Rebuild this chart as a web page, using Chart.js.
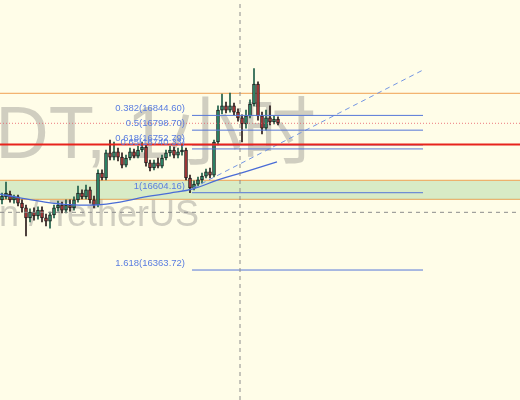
<!DOCTYPE html>
<html>
<head>
<meta charset="utf-8">
<script src="https://cdn.jsdelivr.net/npm/chart.js@4/dist/chart.umd.min.js"></script>
<style>
html,body{margin:0;padding:0;background:#FFFDE8;}
#c{display:block;}
</style>
</head>
<body>
<canvas id="c" width="520" height="400"></canvas>
<script>
// ---- data (prices) ----
const opens  = [16582,16591,16600,16582,16591,16572,16557,16526,16544,16532,16550,16526,16516,16535,16557,16566,16550,16566,16557,16582,16603,16591,16613,16582,16566,16665,16650,16728,16715,16731,16715,16690,16712,16731,16718,16737,16746,16697,16681,16697,16687,16712,16728,16737,16721,16731,16737,16650,16619,16631,16644,16656,16669,16659,16762,16861,16874,16861,16874,16855,16837,16818,16843,16880,16942,16843,16805,16837,16824,16833];
const highs  = [16603,16637,16609,16597,16597,16582,16566,16554,16557,16560,16560,16538,16544,16566,16578,16575,16582,16582,16591,16625,16613,16628,16622,16594,16675,16675,16737,16768,16762,16743,16728,16721,16743,16740,16749,16762,16753,16706,16706,16712,16721,16737,16749,16746,16743,16756,16743,16659,16641,16653,16665,16678,16681,16768,16874,16911,16886,16914,16883,16865,16846,16861,16893,16990,16949,16855,16861,16874,16843,16840];
const lows   = [16569,16585,16575,16572,16563,16544,16470,16513,16519,16522,16513,16501,16494,16526,16547,16541,16541,16547,16550,16575,16585,16585,16572,16557,16560,16644,16644,16706,16706,16703,16681,16684,16706,16712,16712,16731,16687,16672,16675,16681,16681,16706,16718,16712,16712,16721,16644,16604,16613,16625,16634,16650,16650,16653,16753,16849,16852,16855,16846,16827,16762,16805,16837,16874,16830,16787,16799,16815,16818,16815];
const closes = [16594,16603,16582,16591,16572,16557,16526,16544,16532,16550,16526,16516,16535,16557,16566,16550,16566,16557,16582,16603,16591,16613,16582,16566,16665,16650,16728,16715,16731,16715,16690,16712,16731,16718,16737,16746,16697,16681,16697,16687,16712,16728,16737,16721,16731,16737,16650,16619,16631,16644,16656,16669,16659,16762,16861,16874,16861,16874,16855,16837,16818,16843,16880,16942,16843,16805,16837,16824,16833,16821];

// moving-average style curve (bar index, price)
const maIdx    = [-0.5, 4.5, 10.75, 17, 23.25, 29.5, 35.75, 42, 47.75, 54, 60.75, 68.75];
const maPrices = [16600,16588,16575,16567,16566,16575,16591,16603,16616,16644,16669,16700];

// fibonacci retracement
const fibRatios = ["0.382","0.5","0.618","0.65","1","1.618"];
const fibPrices = [16844.60,16798.70,16752.79,16740.33,16604.16,16363.72];
const fibStartIdx = 47.5, fibEndIdx = 105.25;

// horizontal levels
const orangeLevels = [16913.3, 16642.8, 16583.7];
const redLevel = 16754.1;
const lastPriceLevel = 16820;

// dashed trend line
const trendIdx = [47.75, 105.25];
const trendPrices = [16618.8, 16985.8];

// crosshair
const crossIdx = 59.5, crossPrice = 16543.2;

// view range
const xMin = -0.5, xMax = 129.5, yMin = 15959.5, yMax = 17203.5;

// ---- build datasets ----
const idx = closes.map((_, i) => i);
const isUp = idx.map(i => closes[i] >= opens[i]);
const hline = (p) => [{x:xMin, y:p}, {x:xMax, y:p}];

const lineBase = {type:'line', pointRadius:0, fill:false, tension:0, borderWidth:1};

const datasets = [
  Object.assign({}, lineBase, {data:[{x:crossIdx,y:yMin},{x:crossIdx,y:yMax}], borderColor:'#8c8c8c', borderDash:[4,4], order:0}),
  Object.assign({}, lineBase, {data:hline(crossPrice), borderColor:'#8c8c8c', borderDash:[4,4], order:0}),
  Object.assign({}, lineBase, {data:hline(redLevel), borderColor:'#e8231c', borderWidth:2, order:1}),
];
fibPrices.forEach(p => datasets.push(Object.assign({}, lineBase, {
  data:[{x:fibStartIdx,y:p},{x:fibEndIdx,y:p}], borderColor:'#5577d8', order:2})));
datasets.push(Object.assign({}, lineBase, {data:hline(lastPriceLevel), borderColor:'rgba(232,90,100,0.8)', borderDash:[1,2], order:3}));
datasets.push(Object.assign({}, lineBase, {data:trendIdx.map((x,k)=>({x, y:trendPrices[k]})), borderColor:'#7395e3', borderDash:[5,4], order:3}));
datasets.push(Object.assign({}, lineBase, {data:maIdx.map((x,k)=>({x, y:maPrices[k]})), borderColor:'#4a6cd6', borderWidth:1.3, tension:0.4, order:3}));
datasets.push({type:'bar', data:idx.map(i=>({x:i, y:[opens[i], closes[i]]})),
  backgroundColor: idx.map(i => isUp[i] ? '#2e9270' : '#b53a3a'),
  borderColor:'#1a1a1a', borderWidth:1, borderSkipped:false, barThickness:3, minBarLength:1, grouped:false, order:4});
datasets.push({type:'bar', data:idx.map(i=>({x:i, y:[lows[i], highs[i]]})),
  backgroundColor: idx.map(i => isUp[i] ? '#1f5e48' : '#2a1a1a'),
  borderWidth:0, barThickness:1, grouped:false, order:5});
// band (top line fills down to bottom line) + top orange level
datasets.push(Object.assign({}, lineBase, {data:hline(orangeLevels[1]), borderColor:'#f0a052', fill:'+1', backgroundColor:'rgba(125,195,120,0.30)', order:6}));
datasets.push(Object.assign({}, lineBase, {data:hline(orangeLevels[2]), borderColor:'#f0a052', order:6}));
datasets.push(Object.assign({}, lineBase, {data:hline(orangeLevels[0]), borderColor:'#f0a052', order:6}));

const bgPlugin = {
  id:'bg',
  beforeDraw(chart){
    const c = chart.ctx; c.save(); c.fillStyle = '#FFFDE8';
    c.fillRect(0,0,chart.width,chart.height); c.restore();
  },
  beforeDatasetsDraw(chart){
    const c = chart.ctx; c.save();
    c.fillStyle = 'rgba(110,110,110,0.32)';
    c.textBaseline = 'alphabetic';
    c.textAlign = 'right';
    c.font = '74px "Liberation Sans", "Noto Sans CJK SC"';
    c.fillText('BTCUSDT, 1小时', 316, 158);
    c.font = '36px "Liberation Sans", "Noto Sans CJK SC"';
    c.fillText('Bitcoin / TetherUS', 199, 226);
    c.restore();
  },
  afterDatasetsDraw(chart){
    const c = chart.ctx, xs = chart.scales.x, ys = chart.scales.y;
    c.save();
    c.font = '9.5px "Liberation Sans"';
    c.fillStyle = '#5a7de0';
    c.textAlign = 'right';
    c.textBaseline = 'alphabetic';
    const xr = xs.getPixelForValue(fibStartIdx) - 7;
    fibPrices.forEach((p,k) => {
      c.fillText(fibRatios[k] + '(' + p.toFixed(2) + ')', xr, ys.getPixelForValue(p) - 4);
    });
    c.restore();
  }
};

new Chart(document.getElementById('c'), {
  type:'bar',
  data:{datasets},
  plugins:[bgPlugin],
  options:{
    responsive:false, animation:false, devicePixelRatio:1, events:[],
    layout:{padding:0},
    plugins:{legend:{display:false}, tooltip:{enabled:false}, title:{display:false}},
    scales:{
      x:{type:'linear', min:xMin, max:xMax, display:false, offset:false, grid:{offset:false}},
      y:{type:'linear', min:yMin, max:yMax, display:false}
    }
  }
});
</script>
</body>
</html>
